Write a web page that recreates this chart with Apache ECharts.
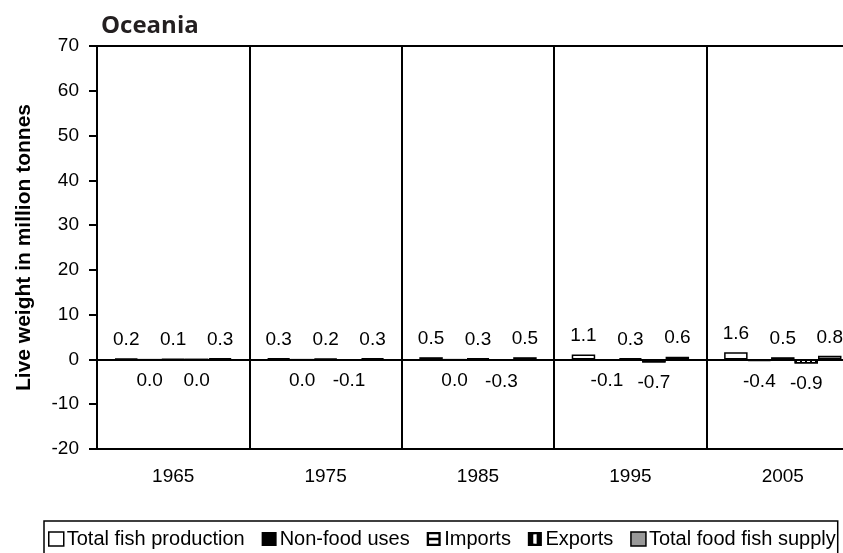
<!DOCTYPE html>
<html>
<head>
<meta charset="utf-8">
<title>Oceania</title>
<script src="https://cdn.jsdelivr.net/npm/echarts@6/dist/echarts.min.js"></script>
<style>
  html, body { margin: 0; padding: 0; background: #fff; }
  #chart { width: 843px; height: 553px; }
</style>
</head>
<body>
<div id="chart"></div>
<script>
// values (million tonnes)
const years = ['1965', '1975', '1985', '1995', '2005']
const production = [0.2, 0.3, 0.5, 1.1, 1.6]
const nonFood = [0.0, 0.0, 0.0, -0.1, -0.4]
const imports = [0.1, 0.2, 0.3, 0.3, 0.5]
const exports = [0.0, -0.1, -0.3, -0.7, -0.9]
const foodSupply = [0.3, 0.3, 0.5, 0.6, 0.8]
const yTicks = { min: -20, max: 70, step: 10 }

const font = 'Liberation Sans, Arial, sans-serif'
const myChart = echarts.init(document.getElementById('chart'))

function label (pos) {
  return {
    show: true,
    position: pos,
    distance: pos === 'top' ? 9 : 11,
    color: '#000',
    fontFamily: font,
    fontSize: 19,
    formatter: p => p.value.toFixed(1)
  }
}

const option = {
  animation: false,
  title: {
    text: 'Oceania',
    left: 96,
    top: 9,
    textStyle: { fontFamily: 'Open Sans', fontWeight: 'bold', fontSize: 24, color: '#231f20' }
  },
  legend: {
    left: 44,
    top: 521,
    padding: [8, 2, 8, 4],
    itemGap: 17,
    itemWidth: 15,
    itemHeight: 14,
    borderColor: '#000',
    borderWidth: 1.5,
    textStyle: { fontFamily: font, fontSize: 20, color: '#000', padding: [0, 0, 0, -2] },
    data: [
      { name: 'Total fish production', icon: 'rect', itemStyle: { color: '#fff', borderColor: '#000', borderWidth: 1.5 } },
      { name: 'Non-food uses', icon: 'rect', itemStyle: { color: '#000', borderWidth: 0 } },
      { name: 'Imports', icon: 'path://M0,0H12V12H0Z M2,2V5H10V2Z M2,7V10H10V7Z', itemStyle: { color: '#000', borderWidth: 0 } },
      { name: 'Exports', icon: 'path://M0,0H12V12H0Z M4.5,2V10H7.5V2Z', itemStyle: { color: '#000', borderWidth: 0 } },
      { name: 'Total food fish supply', icon: 'rect', itemStyle: { color: '#999', borderColor: '#000', borderWidth: 1.5 } }
    ]
  },
  grid: {
    left: 97,
    width: 762,
    top: 46,
    bottom: 104,
    show: true,
    borderColor: '#000',
    borderWidth: 2,
    outerBoundsMode: 'none'
  },
  xAxis: {
    type: 'category',
    data: years,
    axisLine: { onZero: false, lineStyle: { color: '#000', width: 2 } },
    axisTick: { show: false },
    splitLine: { show: true, lineStyle: { color: '#000', width: 2 } },
    axisLabel: { color: '#000', fontFamily: font, fontSize: 19, margin: 18 }
  },
  yAxis: {
    type: 'value',
    min: yTicks.min,
    max: yTicks.max,
    interval: yTicks.step,
    name: 'Live weight in million tonnes',
    nameLocation: 'middle',
    nameGap: 62,
    nameTextStyle: { fontFamily: font, fontWeight: 'bold', fontSize: 21, color: '#000' },
    axisLine: { show: true, lineStyle: { color: '#000', width: 2 } },
    axisTick: { show: true, inside: false, length: 8, lineStyle: { color: '#000', width: 2 } },
    splitLine: { show: false },
    axisLabel: { color: '#000', fontFamily: font, fontSize: 19, margin: 18 }
  },
  series: [
    {
      name: 'Total fish production',
      type: 'bar',
      data: production,
      barGap: '0%',
      barCategoryGap: '23%',
      itemStyle: { color: '#fff', borderColor: '#000', borderWidth: 1.5 },
      label: label('top'),
      markLine: {
        silent: true,
        symbol: 'none',
        label: { show: false },
        lineStyle: { color: '#000', width: 2, type: 'solid' },
        data: [{ yAxis: 0 }]
      }
    },
    {
      name: 'Non-food uses',
      type: 'bar',
      data: nonFood,
      itemStyle: { color: '#000', borderColor: '#000', borderWidth: 1 },
      label: label('bottom')
    },
    {
      name: 'Imports',
      type: 'bar',
      data: imports,
      itemStyle: { color: '#fff', borderColor: '#000', borderWidth: 1.5 },
      label: label('top')
    },
    {
      name: 'Exports',
      type: 'bar',
      data: exports,
      itemStyle: {
        color: '#fff',
        borderColor: '#000',
        borderWidth: 1.5,
        decal: { symbol: 'rect', symbolSize: 1, dashArrayX: [2, 3], dashArrayY: [10, 0], color: '#000', rotation: 0 }
      },
      label: label('bottom')
    },
    {
      name: 'Total food fish supply',
      type: 'bar',
      data: foodSupply,
      itemStyle: { color: '#999', borderColor: '#000', borderWidth: 1.5 },
      label: label('top')
    }
  ]
}
myChart.setOption(option)
</script>
</body>
</html>
